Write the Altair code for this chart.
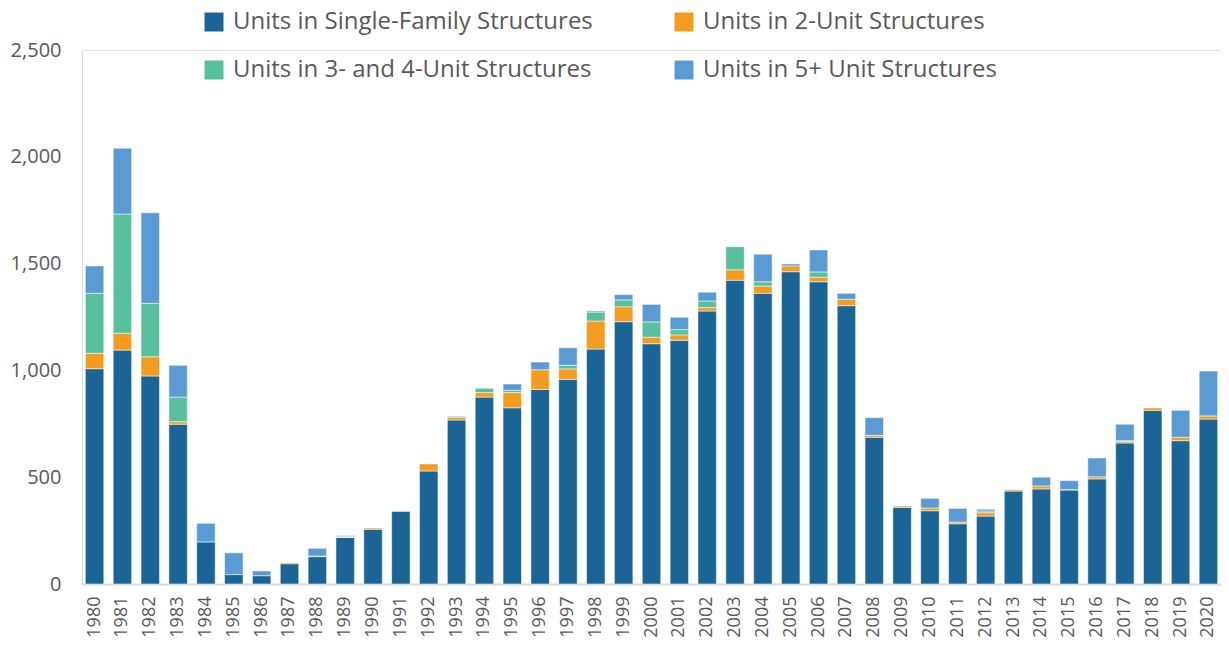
import altair as alt
import pandas as pd

years = list(range(1980, 2021))

single_family = [1008, 1095, 974, 748, 197, 44, 39, 95, 128, 218,
                 256, 340, 529, 768, 875, 825, 911, 958, 1100, 1228,
                 1125, 1141, 1278, 1422, 1361, 1462, 1415, 1303, 687, 359,
                 343, 282, 318, 435, 445, 440, 492, 660, 813, 671,
                 772]
two_unit = [72, 79, 90, 12, 0, 0, 0, 5, 0, 2,
            6, 0, 33, 12, 21, 71, 92, 49, 131, 70,
            30, 25, 16, 49, 34, 27, 21, 30, 9, 6,
            13, 8, 16, 6, 14, 2, 10, 8, 11, 16,
            15]
three_four_unit = [281, 558, 250, 115, 0, 0, 0, 0, 3, 3,
                   0, 0, 0, 0, 20, 11, 0, 17, 42, 32,
                   72, 25, 31, 108, 20, 0, 25, 0, 0, 0,
                   0, 0, 8, 0, 0, 0, 0, 3, 0, 0,
                   0]
five_plus_unit = [128, 308, 424, 149, 87, 102, 22, 0, 36, 4,
                  0, 0, 0, 5, 0, 29, 36, 82, 5, 25,
                  82, 58, 41, 0, 129, 9, 103, 28, 83, 0,
                  45, 64, 8, 0, 41, 42, 88, 77, 0, 126,
                  210]

series_names = ["Units in Single-Family Structures", "Units in 2-Unit Structures",
                "Units in 3- and 4-Unit Structures", "Units in 5+ Unit Structures"]
series_colors = ["#1b6496", "#f39c1f", "#58c09f", "#5b9bd4"]
y_ticks = [0, 500, 1000, 1500, 2000, 2500]

all_series = [single_family, two_unit, three_four_unit, five_plus_unit]
rows = []
for i, yr in enumerate(years):
    for k, name in enumerate(series_names):
        v = all_series[k][i]
        if v > 0:
            rows.append({"year": str(yr), "series": name, "order": k, "value": v})
df = pd.DataFrame(rows)

year_labels = [str(y) for y in years]

chart = alt.Chart(df).mark_bar(stroke="white", strokeWidth=1, strokeOpacity=0.5).encode(
    x=alt.X("year:N", sort=year_labels,
            scale=alt.Scale(domain=year_labels, paddingInner=0.337, paddingOuter=0.12),
            axis=alt.Axis(title=None, labelAngle=-90, ticks=False, domainColor="#d9d9d9",
                          domainWidth=2, labelPadding=12, labelFontSize=18,
                          labelColor="#595959", labelFont="Open Sans")),
    y=alt.Y("value:Q", stack="zero",
            scale=alt.Scale(domain=[0, 2500], nice=False),
            axis=alt.Axis(title=None, values=y_ticks, format=",.0f", domain=False, ticks=False,
                          grid=False, labelPadding=21, labelFontSize=20, labelColor="#595959",
                          labelFont="Open Sans", minExtent=74, maxExtent=74)),
    color=alt.Color("series:N", title=None,
                    scale=alt.Scale(domain=series_names, range=series_colors),
                    legend=alt.Legend(orient="none", direction="horizontal",
                                      legendX=120, legendY=-40, columns=2,
                                      symbolType="square", symbolSize=361, symbolStrokeWidth=0,
                                      labelFontSize=24, labelColor="#595959", labelFont="Open Sans",
                                      labelOffset=7, columnPadding=79, rowPadding=24,
                                      labelLimit=500)),
    order=alt.Order("order:Q"),
).properties(
    width=1139, height=534,
    padding={"left": 0, "right": 0, "top": 2, "bottom": 0},
).configure_view(strokeWidth=0).configure(font="Open Sans", background="white")

chart.save("out.html", embed_options={"renderer": "svg", "actions": False})
